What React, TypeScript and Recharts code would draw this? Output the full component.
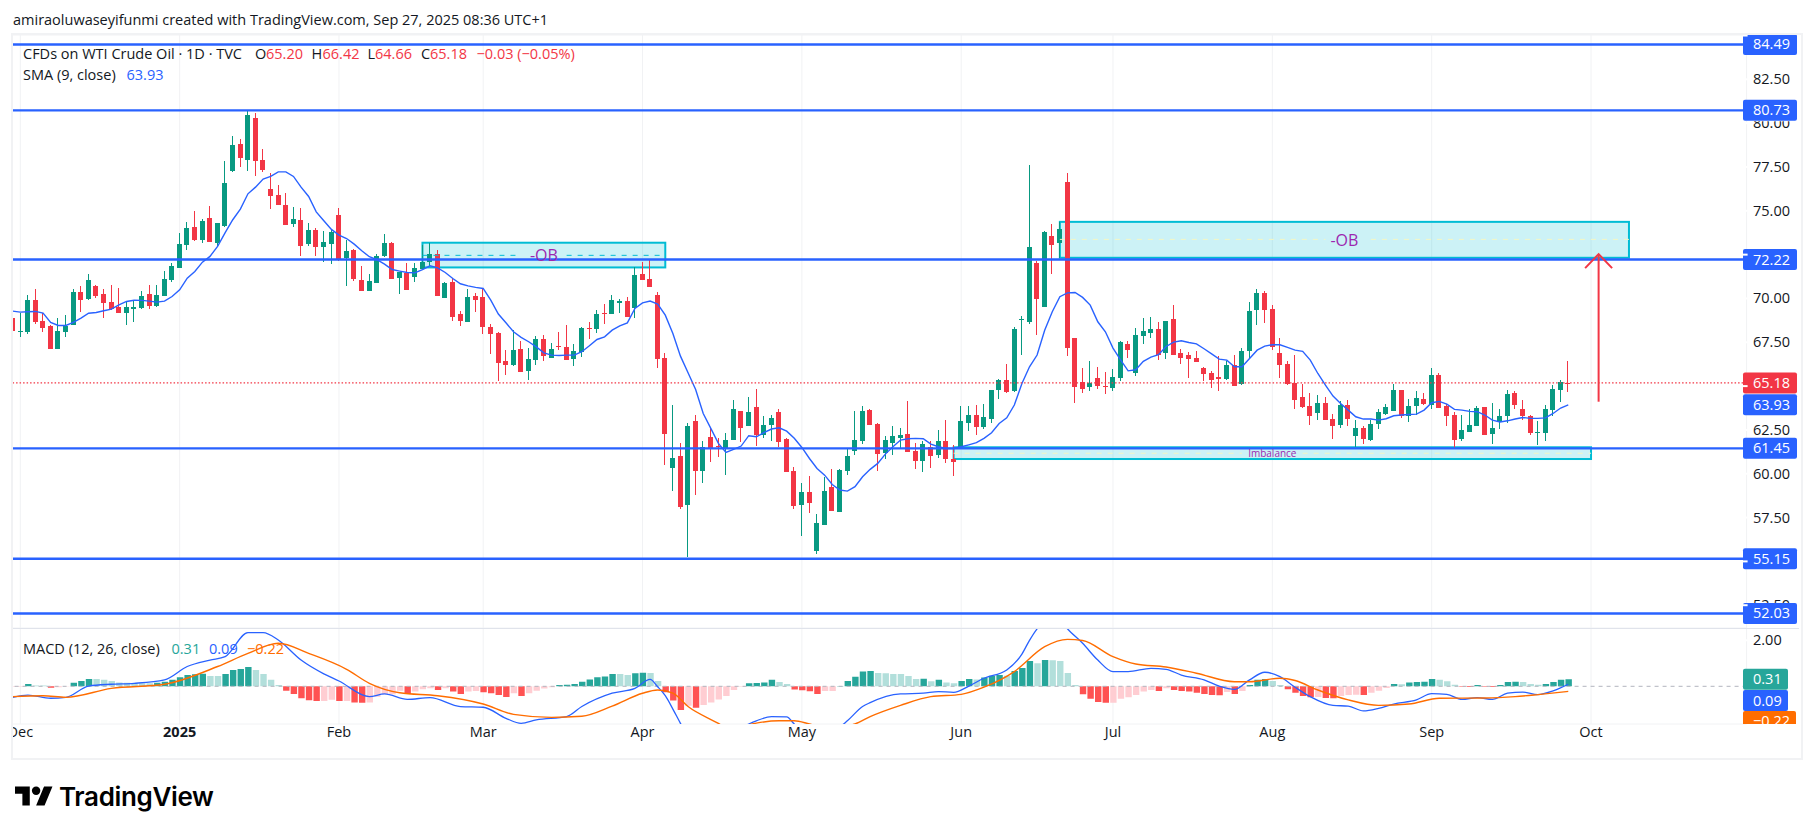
import React from 'react';
import { ComposedChart, Bar, Line, Cell, XAxis, YAxis, CartesianGrid, ReferenceLine, ReferenceArea, ReferenceDot } from 'recharts';

type Candle = [number, number, number, number]; // open, high, low, close

const candlesDec: Candle[] = [
  [68.88,69.16,68.08,68.12],[68.12,69.16,67.78,68.16],[68.06,70.21,68.00,69.92],[69.92,70.55,68.57,68.63],[68.73,69.16,68.06,68.33],
  [68.44,68.48,67.09,67.09],[67.09,68.88,67.09,68.16],[68.10,69.07,67.78,68.44],[68.46,70.55,68.46,70.38],[70.38,70.72,69.20,69.92],
  [69.98,71.41,69.92,71.06],[70.72,70.78,70.04,70.15],[70.27,70.55,68.90,69.75],[69.81,70.78,69.35,69.41],[69.52,70.61,69.18,69.18],
  [69.18,69.87,68.50,69.52],[69.41,69.92,68.67,69.52],[69.47,70.44,69.41,70.15],[70.27,70.78,69.41,69.58],[69.58,70.78,69.52,70.21],
  [70.15,71.58,70.15,71.12],[71.06,72.03,70.95,71.86],
];
const candlesJan: Candle[] = [
  [71.75,73.75,71.75,73.12],[73.06,74.37,72.78,74.03],[74.09,75.00,73.29,73.35],[73.35,74.54,73.17,74.43],[74.60,75.29,73.23,73.23],
  [73.17,74.32,72.95,74.32],[74.14,77.85,74.09,76.60],[77.28,79.28,77.22,78.76],[78.82,79.11,77.51,78.02],[77.91,80.76,77.28,80.48],
  [80.30,80.59,77.00,77.85],[77.91,78.54,77.22,77.34],[76.25,77.17,75.11,75.86],[75.91,76.48,75.34,75.34],[75.34,76.03,74.20,74.20],
  [74.26,75.23,74.09,74.54],[74.49,75.17,72.43,73.00],[73.12,74.32,73.00,73.92],[73.90,74.00,72.41,72.91],[72.93,73.84,72.09,73.21],
  [73.10,73.90,71.96,73.78],
];
const candlesFeb: Candle[] = [
  [74.75,75.15,72.13,72.19],[72.28,73.33,70.70,72.70],[72.76,72.85,71.01,71.10],[71.05,71.84,70.42,70.42],[70.42,71.39,70.42,70.99],
  [70.87,72.53,70.87,72.41],[72.41,73.67,72.36,73.16],[73.16,73.21,71.10,71.10],[71.16,71.50,70.25,71.50],[71.44,72.02,70.48,70.48],
  [71.22,72.02,70.93,71.73],[71.67,73.04,71.67,72.07],[72.07,73.16,71.84,72.53],[72.53,72.76,70.13,70.13],[70.02,70.93,70.02,70.87],
  [70.93,71.16,68.71,68.94],[69.11,69.28,68.42,68.71],[68.65,70.53,68.65,70.08],[70.13,70.30,69.22,69.90],
];
const candlesMar: Candle[] = [
  [70.08,70.59,67.97,68.37],[68.37,68.54,66.83,67.97],[68.02,68.08,65.29,66.31],[66.43,67.05,65.63,66.20],[66.20,68.19,66.14,67.05],
  [67.11,67.57,65.80,65.80],[65.86,67.17,65.34,66.54],[66.48,67.85,66.20,67.68],[67.68,67.91,66.43,66.71],[66.60,67.45,66.60,67.11],
  [67.30,68.08,67.05,67.24],[67.22,68.48,66.48,66.48],[66.54,67.40,66.14,67.00],[66.94,68.37,66.65,68.31],[68.31,68.65,67.68,68.25],
  [68.25,69.33,68.02,69.11],[69.16,69.68,68.54,69.11],[69.11,70.19,69.11,69.90],[69.79,69.96,69.16,69.83],[69.85,70.08,68.94,68.94],
  [69.45,71.79,68.88,71.33],
];
const candlesApr: Candle[] = [
  [71.39,72.07,71.05,71.05],[71.10,72.24,70.65,70.65],[70.19,70.36,66.01,66.54],[66.60,66.86,60.49,62.26],[60.32,63.92,59.01,60.89],
  [61.01,61.75,57.98,58.10],[58.21,62.89,55.25,62.72],[63.00,63.35,58.78,60.15],[60.15,61.86,59.47,61.50],[62.09,62.66,60.67,61.46],
  [61.58,62.03,60.95,61.52],[61.46,62.32,59.92,61.92],[61.92,64.20,61.92,63.69],[63.57,63.57,61.81,62.60],[62.72,64.37,62.72,63.52],
  [63.80,64.83,61.58,62.21],[62.21,63.29,62.03,62.78],[62.78,63.35,61.86,63.17],[63.52,63.69,61.52,61.81],[61.98,62.03,60.10,60.10],
  [60.15,60.38,57.98,58.16],
];
const candlesMay: Candle[] = [
  [58.21,59.47,56.44,58.95],[58.95,59.87,57.76,58.33],[55.59,57.70,55.42,57.19],[57.07,59.81,57.07,59.01],[59.24,60.27,57.87,57.87],
  [57.81,60.27,57.81,60.21],[60.15,61.44,59.92,61.01],[61.29,63.57,61.06,61.92],[61.86,63.86,61.69,63.57],[63.63,63.69,62.78,62.78],
  [62.83,62.89,60.15,61.12],[61.18,62.15,60.84,61.92],[61.75,62.72,61.06,62.15],[62.03,62.60,61.46,62.21],[62.26,64.14,61.24,61.24],
  [61.29,61.75,60.27,60.72],[60.72,61.86,60.10,61.69],[61.52,61.86,60.32,61.01],[61.06,62.49,60.89,61.86],[61.86,63.06,60.61,60.84],
  [60.84,61.63,59.87,60.67],
];
const candlesJun: Candle[] = [
  [61.52,63.86,61.52,63.00],[62.89,63.86,62.43,63.35],[63.35,63.92,62.21,62.66],[62.66,63.97,62.55,63.23],[63.12,64.77,62.89,64.77],
  [64.77,65.40,64.26,65.34],[65.34,66.25,64.60,64.66],[64.71,68.37,64.66,68.25],[68.75,69.01,66.79,68.82],[68.67,77.62,68.56,72.95],
  [72.03,72.15,67.93,69.98],[69.52,73.86,69.52,73.80],[73.57,74.26,71.41,73.06],[73.17,74.37,72.30,73.97],[76.65,77.17,66.73,67.19],
  [67.76,67.76,64.05,64.96],[65.25,66.05,64.62,64.85],[64.96,66.44,64.73,65.19],[65.48,66.10,64.85,65.02],[65.02,65.82,64.56,64.98],
];
const candlesJul: Candle[] = [
  [64.90,65.99,64.73,65.53],[65.48,67.59,65.30,67.53],[67.41,67.59,66.62,67.07],[65.76,68.33,65.59,67.93],[67.87,68.90,67.41,68.16],
  [68.04,68.95,67.76,68.27],[68.27,68.67,66.50,66.79],[66.90,68.73,66.56,68.73],[68.84,69.64,66.79,66.79],[66.90,67.13,66.27,66.62],
  [66.79,66.96,65.48,66.56],[66.62,67.02,66.39,66.39],[66.05,66.10,65.30,65.70],[65.76,65.87,64.90,65.36],[65.53,66.73,64.73,65.42],
  [65.42,66.44,65.36,66.22],[66.22,66.79,65.02,65.02],[65.13,67.19,65.08,67.02],[67.00,69.79,66.54,69.28],[69.33,70.53,68.48,70.30],
  [70.30,70.42,68.59,69.33],
];
const candlesAug: Candle[] = [
  [69.39,69.62,67.05,67.22],[66.88,67.74,65.46,66.20],[66.25,66.43,65.06,65.11],[65.17,66.77,63.69,64.20],[64.37,65.11,63.75,63.80],
  [63.86,64.60,62.78,63.29],[63.46,64.49,63.06,64.03],[64.03,64.37,63.06,63.06],[63.12,63.40,61.98,62.72],[62.78,64.14,62.60,63.92],
  [63.92,64.20,62.72,63.12],[62.15,63.06,61.52,62.60],[62.60,62.72,61.69,61.98],[61.92,63.06,61.86,62.83],[62.83,63.69,62.55,63.52],
  [63.40,63.97,63.35,63.80],[63.57,65.11,63.57,64.77],[64.77,64.77,63.17,63.29],[63.29,64.26,62.95,63.86],[63.86,64.71,63.35,64.32],
  [64.26,64.60,63.92,63.97],
];
const candlesSep: Candle[] = [
  [63.92,66.03,63.69,65.63],[65.63,65.74,63.75,63.75],[63.86,63.97,62.72,63.29],[63.35,63.52,61.46,61.92],[61.98,63.35,61.86,62.49],
  [62.38,63.69,62.38,62.78],[62.72,63.86,62.72,63.75],[63.80,63.80,62.21,62.21],[62.26,64.03,61.69,62.60],[62.95,63.69,62.55,63.29],
  [63.29,64.77,62.89,64.54],[64.60,64.71,63.69,63.92],[63.69,64.20,63.06,63.29],[63.29,63.35,62.21,62.32],[62.32,63.00,61.63,62.38],
  [62.32,63.92,61.86,63.69],[63.63,65.06,63.29,64.83],[64.77,65.34,64.09,65.23],[65.20,66.42,64.66,65.18],
];

const smaValues = [
  69.28,69.22,69.24,69.26,69.16,68.63,68.46,68.46,68.63,68.88,
  69.16,69.20,69.30,69.39,69.64,69.83,69.90,69.89,69.85,69.79,
  69.85,70.11,70.49,71.16,71.54,72.07,72.40,72.97,73.76,74.49,
  75.10,75.97,76.35,76.81,76.96,77.22,77.22,76.96,76.35,75.82,
  74.94,74.43,73.94,73.61,73.42,73.10,72.72,72.38,72.22,71.96,
  71.65,71.56,71.48,71.46,71.65,71.86,71.75,71.48,71.14,70.84,
  70.72,70.63,70.57,69.90,69.11,68.61,68.10,67.78,67.53,67.24,
  66.90,66.77,66.75,66.77,66.77,66.96,67.30,67.66,67.81,68.19,
  68.44,68.61,69.43,69.75,69.85,69.68,69.05,68.00,66.71,65.76,
  64.81,63.44,62.59,61.73,61.22,61.39,61.58,62.17,62.11,62.34,
  62.55,62.62,62.43,62.02,61.50,60.87,60.30,59.92,59.39,59.07,
  59.01,59.26,59.83,60.25,60.59,61.12,61.54,61.92,62.00,62.02,
  62.00,61.69,61.54,61.44,61.44,61.54,61.65,61.77,62.02,62.34,
  62.87,63.19,63.92,65.15,66.10,66.77,68.19,69.24,70.10,70.32,
  70.34,70.06,69.62,68.67,68.10,67.17,66.50,65.87,65.93,66.41,
  66.65,66.79,67.26,67.51,67.59,67.49,67.41,67.13,66.84,66.54,
  66.48,66.10,66.10,66.58,67.05,67.28,67.36,67.36,67.21,67.05,
  66.98,66.48,65.72,65.06,64.43,64.01,63.63,63.25,63.12,63.12,
  63.06,63.14,63.31,63.35,63.38,63.40,63.63,64.05,64.13,63.97,
  63.67,63.63,63.56,63.54,63.35,63.06,62.95,63.02,63.12,63.21,
  63.16,63.16,63.19,63.44,63.75,63.93,
];

const histValues = [
  -.02,-.02,.10,.04,.04,-.06,-.04,-.01,.15,.23,
  .32,.32,.28,.23,.16,.15,.13,.13,.13,.15,
  .20,.28,.39,.49,.52,.55,.45,.45,.54,.71,
  .75,.84,.71,.54,.28,.06,-.19,-.33,-.52,-.61,
  -.64,-.64,-.59,-.64,-.64,-.70,-.72,-.70,-.45,-.35,
  -.35,-.19,-.33,-.23,-.13,-.09,-.16,-.09,-.23,-.33,
  -.23,-.20,-.26,-.30,-.38,-.46,-.30,-.42,-.30,-.19,
  -.10,-.04,.06,.07,.10,.20,.30,.39,.43,.54,
  .54,.49,.57,.59,.58,.23,-.26,-.62,-1.03,-.85,
  -.93,-.81,-.70,-.57,-.42,-.16,-.02,.13,.14,.16,
  .28,.19,.10,-.14,-.17,-.22,-.33,-.20,-.20,.01,
  .23,.41,.64,.67,.58,.57,.54,.54,.45,.32,
  .33,.22,.28,.17,.13,.23,.32,.30,.38,.46,
  .49,.46,.67,.80,1.10,1.00,1.14,1.13,1.10,.58,
  .06,-.35,-.54,-.68,-.72,-.71,-.54,-.48,-.38,-.23,
  -.16,-.20,-.09,-.16,-.20,-.23,-.28,-.33,-.38,-.39,
  -.25,-.33,-.20,.06,.28,.32,.23,.06,-.13,-.28,
  -.42,-.48,-.47,-.51,-.52,-.42,-.38,-.37,-.38,-.28,
  -.19,-.07,.10,.09,.16,.19,.20,.32,.28,.22,
  .07,-.02,-.03,.06,-.02,-.03,.06,.19,.20,.19,
  .10,.07,.10,.19,.28,.31,
];

const macdPoints: [number, number][] = [
  [-1,-.48],[1,-.38],[4,-.52],[6,-.48],[9,.01],[12,.09],[15,.13],[19,.28],[22,.86],[25,1.14],[27,1.29],[30,2.33],[32,2.33],[34,2.01],[37,1.14],[40,.54],[42,.23],[46,-.45],[48,-.33],[51,-.57],[54,-.49],[58,-.88],[61,-.91],[64,-1.39],[66,-1.61],[68,-1.46],[72,-1.32],[74,-.88],[78,-.30],[81,-.09],[83,.30],[84,-.02],[85,-.41],[86,-.99],[87,-1.61],[88,-2.2],[90,-2.6],[93,-2.3],[95,-1.8],[96,-1.64],[97,-1.5],[99,-1.32],[101,-1.33],[102,-1.64],[103,-1.9],[105,-2.2],[107,-2],[109,-1.5],[111,-.88],[112,-.71],[116,-.33],[119,-.3],[121,-.23],[123,-.26],[125,.01],[127,.35],[130,.71],[132,1.4],[133,2.0],[134,2.5],[136,3.0],[137,2.9],[138,2.5],[140,1.87],[142,1.14],[144,.64],[146,.64],[149,.78],[151,.74],[153,.49],[156,.28],[158,.01],[160,-.13],[162,.28],[164,.61],[166,.42],[168,-.04],[170,-.45],[173,-.83],[175,-.86],[177,-1.07],[179,-.96],[181,-.77],[184,-.59],[186,-.32],[188,-.35],[190,-.57],[192,-.49],[194,-.57],[196,-.30],[198,-.25],[200,-.36],[202,-.2],[204,.09],
];
const signalPoints: [number, number][] = [
  [-1,-.45],[3,-.41],[6,-.48],[12,-.09],[19,.09],[26,.86],[30,1.43],[34,1.87],[38,1.43],[43,.74],[46,.13],[50,-.28],[55,-.41],[61,-.77],[65,-1.22],[70,-1.35],[74,-1.30],[78,-.86],[82,-.30],[84,-.16],[86,-.30],[88,-.88],[92,-1.61],[93,-1.8],[95,-1.75],[97,-1.6],[100,-1.5],[102,-1.5],[104,-1.64],[106,-1.8],[108,-1.75],[110,-1.64],[112,-1.32],[116,-.83],[120,-.45],[124,-.35],[127,-.04],[131,.64],[135,1.72],[138,2.04],[140,1.99],[144,1.29],[147,.97],[151,.84],[155,.57],[160,.2],[162,.2],[166,.35],[168,.25],[171,-.16],[175,-.59],[179,-.83],[183,-.77],[187,-.52],[193,-.51],[197,-.45],[200,-.36],[204,-.22],
];

const levels = [84.49, 80.73, 72.22, 61.45, 55.15, 52.03];
const priceTicks = [52.5, 55, 57.5, 60, 62.5, 65, 67.5, 70, 72.5, 75, 77.5, 80, 82.5, 85];
const coveredTicks = [55, 65, 72.5, 85];
const macdTicks = [2];
const monthBars = [0, 21, 42, 61, 82, 103, 124, 144, 165, 186, 207];
const monthLabels = ['Dec', '2025', 'Feb', 'Mar', 'Apr', 'May', 'Jun', 'Jul', 'Aug', 'Sep', 'Oct'];

const allCandles = [...candlesDec, ...candlesJan, ...candlesFeb, ...candlesMar, ...candlesApr, ...candlesMay, ...candlesJun, ...candlesJul, ...candlesAug, ...candlesSep];
const macdMap = new Map(macdPoints);
const signalMap = new Map(signalPoints);
const rows: any[] = [];
for (let i = 0; i < 229; i++) {
  const k = i - 1;
  const c = allCandles[i];
  rows.push({
    k,
    range: c ? [c[2], c[1]] : null,
    o: c ? c[0] : null, h: c ? c[1] : null, l: c ? c[2] : null, cl: c ? c[3] : null,
    sma: smaValues[i] ?? null,
    hist: histValues[i] ?? null,
    macd: macdMap.get(k) ?? null,
    signal: signalMap.get(k) ?? null,
  });
}

const UP = '#089981';
const DOWN = '#f23645';
const BLUE = '#2962ff';
const ORANGE = '#ff6d00';
const TEAL = '#00bcd4';
const GRID = '#f1f2f4';
const INK = '#131722';
const FONT = '"Open Sans", sans-serif';
const FS = 14.5;
const PLOT_L = 8.92;
const AXIS_W = 68.42;
const BAND = 7.588;
const BADGE_X = 1743;
const LABEL_X = 1753;

const histColor = (i: number) => {
  const v = histValues[i];
  if (v == null) return 'transparent';
  const p = i > 0 ? histValues[i - 1] : v;
  if (v >= 0) return v > p ? '#26a69a' : '#b2dfdb';
  return v < p ? '#ff5252' : '#ffcdd2';
};

const CandleShape = (props: any) => {
  const { x, y, width, height, payload } = props;
  if (!payload || payload.o == null || !isFinite(y) || !isFinite(height)) return null;
  const { o, h, l, cl } = payload;
  const s = height / (h - l);
  const top = y + (h - Math.max(o, cl)) * s;
  const bot = y + (h - Math.min(o, cl)) * s;
  const cx = Math.floor(x + width / 2);
  const col = cl > o ? UP : DOWN;
  return (
    <g shapeRendering="crispEdges">
      <rect x={cx} y={y} width={1} height={height} fill={col} />
      <rect x={cx - 2} y={top} width={5} height={Math.max(bot - top, 1.2)} fill={col} />
    </g>
  );
};

const ZoneShape = (props: any) => {
  const { x, y, width, height } = props;
  return <rect x={x + BAND / 2} y={y} width={width - BAND} height={height} fill="rgba(0,188,212,0.2)" stroke={TEAL} strokeWidth={2} />;
};

const PriceTick = (props: any) => {
  const { y, payload } = props;
  const v = payload.value;
  const covered = coveredTicks.includes(v);
  const clip = v === 80 ? 'url(#tick80)' : v === 52.5 ? 'url(#tick525)' : undefined;
  return (
    <g>
      <rect x={1742.6} y={y - 1} width={5} height={2} fill="#fff" />
      {v === 80 && <clipPath id="tick80"><rect x={1740} y={121.2} width={70} height={30} /></clipPath>}
      {v === 52.5 && <clipPath id="tick525"><rect x={1740} y={580} width={70} height={23} /></clipPath>}
      {!covered && <text x={LABEL_X} y={y + 5} clipPath={clip} fontFamily={FONT} fontSize={FS} fill={INK}>{v.toFixed(2)}</text>}
    </g>
  );
};

const MonthTick = (props: any) => {
  const { x, y, payload } = props;
  const label = monthLabels[monthBars.indexOf(payload.value)];
  return (
    <text x={x} y={y + 5} textAnchor="middle" fontFamily={FONT} fontSize={FS} fontWeight={label === '2025' ? 700 : 400} fill={INK}>{label}</text>
  );
};

const badge = (text: string, color: string, w = 54, shift = 0, clip = false) => (p: any) => {
  const yy = p.viewBox.y + shift;
  return (
    <g clipPath={clip ? 'url(#macdClip)' : undefined}>
      <rect x={BADGE_X} y={yy - 10.5} width={w} height={21} rx={2} fill={color} />
      <text x={LABEL_X} y={yy + 5} fontFamily={FONT} fontSize={FS} fill="#fff">{text}</text>
    </g>
  );
};

const ArrowHead = (p: any) => (
  <path d={`M${p.cx - 13.5} ${p.cy + 14} L${p.cx} ${p.cy} L${p.cx + 13.5} ${p.cy + 14}`} fill="none" stroke={DOWN} strokeWidth={2} />
);

const zoneLabel = (value: string, size: number) => ({ value, position: 'center' as const, fill: '#9c27b0', fontSize: size, fontFamily: FONT });

const text = (left: number, top: number, color: string, content: string, extra: any = {}) => (
  <div style={{ position: 'absolute', left, top, color, fontFamily: FONT, fontSize: FS, lineHeight: '20px', whiteSpace: 'nowrap', ...extra }}>{content}</div>
);

export default function App() {
  return (
    <div style={{ position: 'fixed', left: 0, top: 0, width: 1815, height: 834, background: '#fff', overflow: 'hidden' }}>
      <div style={{ position: 'absolute', left: 0, top: 0 }}>
        <ComposedChart width={1815} height={628} data={rows} margin={{ top: 35, left: PLOT_L, right: 0, bottom: 0 }}>
          <CartesianGrid stroke={GRID} strokeWidth={1} />
          <XAxis dataKey="k" type="category" hide ticks={monthBars} interval={0} />
          <YAxis yAxisId="p" orientation="right" width={AXIS_W} domain={[51.2, 85.03]} allowDataOverflow ticks={priceTicks} interval={0} axisLine={false} tickLine={false} tick={<PriceTick />} />
          <ReferenceArea yAxisId="p" x1={53} x2={85} y1={71.77} y2={73.18} shape={<ZoneShape />} label={zoneLabel('-OB', 16)} />
          <ReferenceArea yAxisId="p" x1={137} x2={212} y1={72.32} y2={74.37} shape={<ZoneShape />} label={zoneLabel('-OB', 16)} />
          <ReferenceArea yAxisId="p" x1={123} x2={207} y1={60.84} y2={61.51} shape={<ZoneShape />} label={zoneLabel('Imbalance', 10)} />
          <ReferenceLine yAxisId="p" segment={[{ x: 53, y: 72.46 }, { x: 66, y: 72.46 }]} stroke={TEAL} strokeDasharray="5 6" />
          <ReferenceLine yAxisId="p" segment={[{ x: 72, y: 72.46 }, { x: 85, y: 72.46 }]} stroke={TEAL} strokeDasharray="5 6" />
          <ReferenceLine yAxisId="p" segment={[{ x: 137, y: 73.37 }, { x: 172, y: 73.37 }]} stroke="#f4f6c4" strokeDasharray="5 6" />
          <ReferenceLine yAxisId="p" segment={[{ x: 178, y: 73.37 }, { x: 212, y: 73.37 }]} stroke="#f4f6c4" strokeDasharray="5 6" />
          <ReferenceLine yAxisId="p" segment={[{ x: 123, y: 61.17 }, { x: 161, y: 61.17 }]} stroke="#f4f6c4" strokeDasharray="5 6" />
          <ReferenceLine yAxisId="p" segment={[{ x: 169, y: 61.17 }, { x: 207, y: 61.17 }]} stroke="#f4f6c4" strokeDasharray="5 6" />
          <Bar yAxisId="p" dataKey="range" barSize={5} isAnimationActive={false} shape={<CandleShape />} />
          <Line yAxisId="p" dataKey="sma" stroke={BLUE} strokeWidth={1.4} dot={false} activeDot={false} isAnimationActive={false} />
          <ReferenceLine yAxisId="p" y={65.18} stroke={DOWN} strokeWidth={1.2} strokeDasharray="1.5 2" label={badge('65.18', DOWN)} />
          <ReferenceLine yAxisId="p" y={63.93} stroke="none" label={badge('63.93', BLUE)} />
          {levels.map((v) => (
            <ReferenceLine key={v} yAxisId="p" y={v} stroke={BLUE} strokeWidth={2.4} label={badge(v.toFixed(2), BLUE)} />
          ))}
          <ReferenceLine yAxisId="p" segment={[{ x: 208, y: 64.11 }, { x: 208, y: 72.53 }]} stroke={DOWN} strokeWidth={2} />
          <ReferenceDot yAxisId="p" x={208} y={72.53} shape={<ArrowHead />} />
        </ComposedChart>
      </div>

      <div style={{ position: 'absolute', left: 0, top: 628 }}>
        <ComposedChart width={1815} height={130} data={rows} margin={{ top: 0.5, left: PLOT_L, right: 0, bottom: 0 }}>
          <defs>
            <clipPath id="macdClip"><rect x={0} y={0} width={1815} height={96} /></clipPath>
          </defs>
          <CartesianGrid stroke={GRID} strokeWidth={1} />
          <XAxis dataKey="k" type="category" height={34} ticks={monthBars} interval={0} axisLine={false} tickLine={false} tick={<MonthTick />} />
          <YAxis yAxisId="m" orientation="right" width={AXIS_W} domain={[-1.639, 2.513]} allowDataOverflow ticks={macdTicks} interval={0} axisLine={false} tickLine={false} tick={<PriceTick />} />
          <ReferenceLine yAxisId="m" y={0} stroke="#b2b5be" strokeDasharray="4 4" />
          <Bar yAxisId="m" dataKey="hist" barSize={6.4} isAnimationActive={false}>
            {rows.map((_, i) => <Cell key={i} fill={histColor(i)} />)}
          </Bar>
          <Line yAxisId="m" dataKey="macd" stroke={BLUE} strokeWidth={1.3} dot={false} activeDot={false} connectNulls type="monotone" isAnimationActive={false} />
          <Line yAxisId="m" dataKey="signal" stroke={ORANGE} strokeWidth={1.4} dot={false} activeDot={false} connectNulls type="monotone" isAnimationActive={false} />
          <ReferenceLine yAxisId="m" y={0.31} stroke="none" label={badge('0.31', '#26a69a', 45)} />
          <ReferenceLine yAxisId="m" y={0.09} stroke="none" label={badge('0.09', BLUE, 45, 16.3)} />
          <ReferenceLine yAxisId="m" y={-0.22} stroke="none" label={badge('\u22120.22', ORANGE, 53, 30.1, true)} />
        </ComposedChart>
      </div>

      <div style={{ position: 'absolute', left: 0, top: 33, width: 11, height: 727, background: '#fff' }} />
      <div style={{ position: 'absolute', left: 11, top: 33, width: 1788, height: 723, border: '2px solid #f1f2f4', pointerEvents: 'none' }} />
      <div style={{ position: 'absolute', left: 13, top: 627.5, width: 1786, height: 1.5, background: '#e0e3eb' }} />

      {text(13, 10, INK, 'amiraoluwaseyifunmi created with TradingView.com, Sep 27, 2025 08:36 UTC+1')}
      {text(23, 44, INK, 'CFDs on WTI Crude Oil \u00b7 1D \u00b7 TVC')}
      {text(255, 44, INK, 'O')}
      {text(266, 44, DOWN, '65.20')}
      {text(311.5, 44, INK, 'H')}
      {text(322.5, 44, DOWN, '66.42')}
      {text(367.5, 44, INK, 'L')}
      {text(375, 44, DOWN, '64.66')}
      {text(421, 44, INK, 'C')}
      {text(430, 44, DOWN, '65.18')}
      {text(476.5, 44, DOWN, '\u22120.03 (\u22120.05%)')}
      {text(23, 65, INK, 'SMA (9, close)')}
      {text(126.5, 65, BLUE, '63.93')}
      {text(23, 639, INK, 'MACD (12, 26, close)')}
      {text(171.5, 639, '#26a69a', '0.31')}
      {text(209, 639, BLUE, '0.09')}
      {text(247, 639, ORANGE, '\u22120.22')}

      <svg style={{ position: 'absolute', left: 15, top: 782 }} width={38} height={30} viewBox="0 0 36 28">
        <path d="M14 22H7V11H0V4h14v18zM28 22h-8l7.5-18h8L28 22z" fill="#000" />
        <circle cx={20} cy={8} r={4} fill="#000" />
      </svg>
      <div style={{ position: 'absolute', left: 59, top: 781, fontFamily: 'Inter, sans-serif', fontWeight: 600, fontSize: 26, lineHeight: '32px', letterSpacing: -0.35, color: '#000' }}>TradingView</div>
    </div>
  );
}
